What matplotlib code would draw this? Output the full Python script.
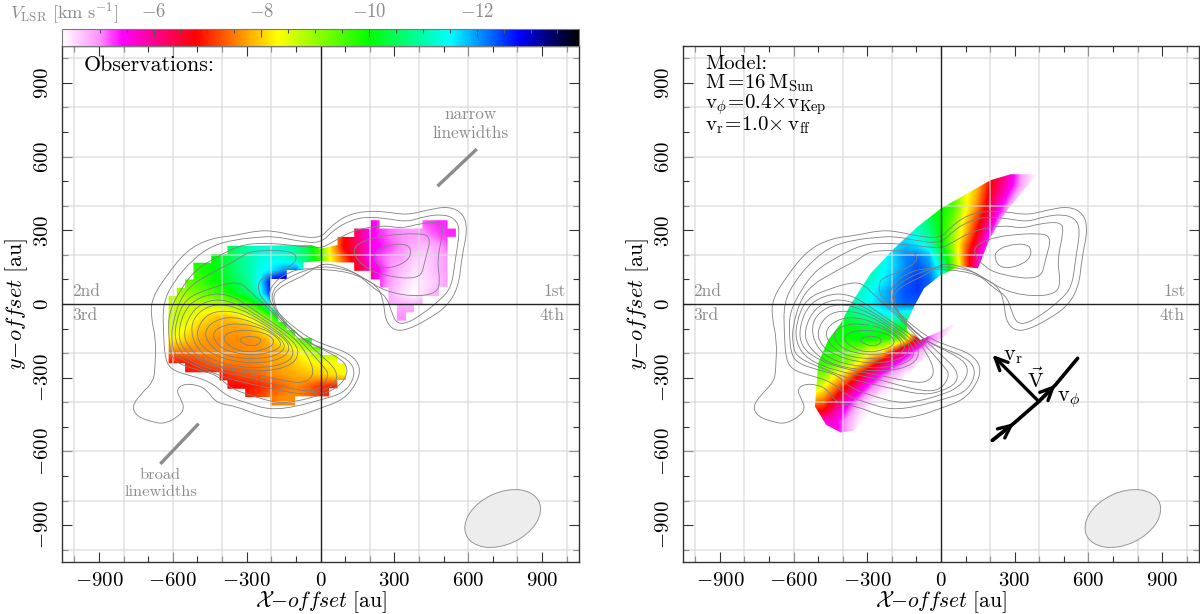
import numpy as np
import matplotlib
matplotlib.use("Agg")
import matplotlib.pyplot as plt
from matplotlib.cm import ScalarMappable
from matplotlib.colors import LinearSegmentedColormap, Normalize
from matplotlib.patches import Ellipse, PathPatch, Polygon
from matplotlib.path import Path

plt.rcParams["mathtext.fontset"] = "cm"
plt.rcParams["font.family"] = ["cmr10", "DejaVu Serif"]
plt.rcParams["axes.unicode_minus"] = False

# velocity colour scale
cmap_velocity = [-13.9, -13.3, -12.8, -11.5, -10.0, -8.3, -7.7, -6.8, -6.0, -5.4, -5.0, -4.3]
cmap_colors = ["#000000", "#000080", "#0000ff", "#00ffff", "#00ff00", "#ffff00",
               "#ffa000", "#ff0000", "#ff0090", "#ff00ff", "#ff90ff", "#ffffff"]

# contours, au, same in both panels
c1_x = [-678,-733,-766,-746,-678,-631,-577,-552,-570,-586,-556,-502,-462,-424,-340,-259,-177,-96,0,93,148,164,121,39,-35,-103,-164,-204,-211,-191,-150,-83,0,80,148,229,256,263,297,351,432,513,561,574,597,581,520,432,351,269,188,107,39,0,-96,-191,-259,-340,-448,-543,-624,-685,-689,-668,-672]
c1_y = [-315,-370,-417,-458,-482,-487,-458,-424,-383,-349,-325,-329,-349,-403,-417,-451,-467,-458,-424,-390,-322,-255,-203,-173,-146,-99,-45,3,43,84,118,145,141,135,118,77,16,-65,-108,-106,-65,-11,70,192,301,368,398,382,362,375,379,362,314,267,276,298,298,280,267,219,118,23,-51,-146,-255]
c2_x = [-640,-638,-631,-604,-543,-448,-380,-299,-204,-96,0,93,134,137,93,26,-42,-110,-171,-194,-198,-177,-137,-69,0,80,148,215,269,290,310,351,418,486,533,547,567,547,493,418,351,269,188,121,53,0,-96,-191,-259,-340,-435,-516,-597]
c2_y = [3,-119,-227,-268,-288,-315,-376,-403,-431,-417,-390,-363,-309,-255,-214,-187,-160,-112,-51,3,43,77,104,135,154,145,125,64,30,-38,-79,-79,-38,16,70,179,301,348,366,355,334,348,355,341,301,246,257,276,271,263,240,185,91]
c3_x = [-617,-611,-584,-502,-421,-367,-272,-177,-96,0,66,107,107,66,0,-56,-123,-171,-187,-191,-171,-123,-56,0,66,134,188,269,378,473,486,473,500,486,405,330,256,134,39,0,-123,-232,-326,-421,-509,-570,-617]
c3_y = [-119,-200,-241,-268,-288,-343,-376,-403,-397,-370,-343,-295,-248,-214,-180,-153,-99,-38,3,37,64,91,122,165,158,131,97,50,30,43,97,179,301,334,328,307,321,301,246,226,240,249,240,192,138,57,-38]
c4_x = [452,378,310,229,148,131,175,242,405,425]
c4_y = [280,287,283,274,246,206,152,118,97,179]
c5_x = [222,269,351,371,351,283,236,219]
c5_y = [213,240,246,213,172,145,152,185]
s1_x = [-604,-604,-590,-502,-380,-299,-177,-69,0,66,66,0,-96,-177,-218,-252,-252,-204,-137,-93,-110,-204,-292,-340,-408,-455,-516,-570]
s1_y = [-92,-160,-214,-255,-302,-322,-349,-370,-356,-322,-268,-207,-119,-45,3,43,97,118,145,179,213,219,213,179,145,118,84,23]
s2_x = [-590,-550,-448,-367,-320,-272,-211,-110,-35,12,37,0,-69,-177,-299,-421,-543,-590]
s2_y = [-79,23,64,87,84,37,-18,-119,-200,-255,-288,-349,-356,-329,-295,-275,-227,-160]
s3_x = [-577,-570,-502,-380,-259,-137,-62,-22,-56,-110,-191,-299,-367,-448,-536]
s3_y = [-92,-173,-227,-268,-288,-315,-322,-282,-200,-133,-79,-4,37,43,3]
s4_x = [-557,-543,-462,-340,-218,-110,-83,-137,-259,-340,-435,-516]
s4_y = [-106,-173,-241,-268,-275,-248,-187,-126,-45,3,23,-18]
s5_x = [-529,-509,-448,-340,-232,-137,-103,-137,-232,-326,-421,-496]
s5_y = [-92,-173,-227,-255,-261,-241,-200,-139,-72,-18,3,-31]
s6_x = [-505,-489,-435,-340,-232,-137,-123,-204,-299,-394,-468]
s6_y = [-112,-167,-207,-237,-241,-214,-160,-99,-45,-24,-45]
s7_x = [-475,-448,-380,-272,-177,-137,-177,-259,-353,-428]
s7_y = [-112,-173,-214,-225,-211,-173,-126,-79,-51,-65]
s8_x = [-444,-414,-353,-272,-204,-157,-171,-232,-326,-394]
s8_y = [-119,-173,-200,-207,-198,-173,-139,-99,-79,-85]
s9_x = [-401,-360,-299,-232,-191,-191,-232,-299,-367]
s9_y = [-139,-180,-198,-187,-167,-139,-116,-106,-112]
s10_x = [-333,-313,-279,-242,-245,-306]
s10_y = [-146,-162,-173,-160,-135,-130]
contour_x = [c1_x, c2_x, c3_x, c4_x, c5_x, s1_x, s2_x, s3_x, s4_x, s5_x, s6_x, s7_x, s8_x, s9_x, s10_x]
contour_y = [c1_y, c2_y, c3_y, c4_y, c5_y, s1_y, s2_y, s3_y, s4_y, s5_y, s6_y, s7_y, s8_y, s9_y, s10_y]

# observed velocity map, rows from y=350 down to y=-450 every 50 au, columns x=-650..550 every 50 au
obs_x = [-650, 550]
obs_y = [-450, 350]
obs_v = [
 [-10,-10,-10,-10,-10,-10,-10,-10,-10,-10,-10,-10,-10,-10,-8,-7,-6.5,-5.6,-5.3,-5.1,-5,-4.9,-5.2,-5.3,-5.3],
 [-10,-10,-10,-10,-10,-10,-10,-10,-10,-10,-10,-10,-10,-10,-8,-6.9,-6.3,-5.6,-5.3,-5.1,-5,-4.9,-5,-5.2,-5.3],
 [-10,-10,-10,-10,-10,-10.3,-10.7,-11,-11.3,-11.3,-11.2,-10.9,-10.4,-9.5,-8,-6.8,-6.3,-5.7,-5.4,-5.2,-5,-4.8,-4.7,-4.9,-5.2],
 [-9.9,-9.9,-9.9,-9.9,-10,-10.3,-10.7,-11,-11.3,-11.4,-11.3,-11,-10.5,-9.5,-8.2,-7.3,-6.5,-5.6,-5.2,-5,-4.9,-4.6,-4.6,-4.8,-5],
 [-9.7,-9.7,-9.7,-9.8,-10,-10.3,-10.7,-11,-11.4,-11.6,-12,-12.2,-10.8,-9.8,-8.4,-7.5,-6.8,-6,-5.4,-5,-4.7,-4.5,-4.6,-4.8,-5],
 [-9,-9,-9.4,-9.6,-9.9,-10.2,-10.5,-10.9,-11.6,-13,-13.3,-13.3,-13,-10,-8,-7,-6.8,-6.2,-5.3,-4.9,-4.6,-4.4,-4.5,-4.7,-5],
 [-8.9,-8.9,-9.1,-9.3,-9.5,-9.8,-10.2,-10.6,-11.4,-12.8,-13,-13,-13,-10,-8,-7,-6.5,-6,-5.3,-4.8,-4.5,-4.3,-4.6,-4.8,-5],
 [-8.7,-8.7,-8.7,-8.7,-8.7,-8.8,-9.1,-9.5,-10.2,-11.5,-12,-12,-12,-10,-8,-7,-6,-5.5,-5,-4.8,-4.8,-4.8,-5,-5,-5],
 [-8.7,-8.7,-8.5,-8.2,-8,-7.9,-8.1,-8.4,-8.9,-9.7,-10.8,-11,-11,-10,-8,-7,-6,-5.5,-5,-5,-5,-5,-5,-5,-5],
 [-8.6,-8.5,-8.2,-7.9,-7.8,-7.7,-7.7,-7.8,-8.2,-8.7,-9.4,-10.2,-10.5,-10.5,-10,-8,-6,-5.5,-5,-5,-5,-5,-5,-5,-5],
 [-8.2,-8.2,-7.9,-7.7,-7.6,-7.6,-7.6,-7.6,-7.7,-8,-8.5,-9,-9.8,-10,-9.8,-9,-8,-8,-8,-8,-8,-8,-8,-8,-8],
 [-7.5,-7.5,-7.5,-7.6,-7.6,-7.6,-7.6,-7.6,-7.6,-7.7,-7.9,-8.2,-8.6,-9.2,-8.9,-8.6,-8.4,-8.4,-8.4,-8.4,-8.4,-8.4,-8.4,-8.4,-8.4],
 [-6.9,-6.9,-7,-7.2,-7.4,-7.5,-7.5,-7.5,-7.6,-7.7,-7.8,-8,-8.2,-8.3,-8.3,-8.4,-8.4,-8.4,-8.4,-8.4,-8.4,-8.4,-8.4,-8.4,-8.4],
 [-6.9,-6.9,-6.9,-6.9,-6.9,-7,-7.2,-7.3,-7.4,-7.6,-7.7,-7.8,-7.9,-8,-8.1,-8.3,-8.3,-8.3,-8.3,-8.3,-8.3,-8.3,-8.3,-8.3,-8.3],
 [-6.8,-6.8,-6.8,-6.8,-6.8,-6.8,-6.8,-6.9,-7,-7.2,-7.4,-7.6,-7.4,-7.1,-7,-7,-7,-7,-7,-7,-7,-7,-7,-7,-7],
 [-7,-7,-7,-7,-7,-7,-7,-7,-7.2,-7.5,-7.6,-7.6,-7.4,-7.1,-7,-7,-7,-7,-7,-7,-7,-7,-7,-7,-7],
 [-7,-7,-7,-7,-7,-7,-7,-7,-7.2,-7.5,-7.6,-7.6,-7.4,-7.1,-7,-7,-7,-7,-7,-7,-7,-7,-7,-7,-7],
]
obs_edge_x = [-617,-584,-584,-550,-550,-516,-516,-444,-444,-378,-378,-35,0,69,69,137,137,204,204,240,240,414,414,516,516,550,550,516,516,482,482,414,414,380,380,347,347,310,310,276,276,242,242,204,204,137,137,69,0,-69,-69,-137,-137,-204,-204,-171,-171,-137,-137,-103,-103,-35,-35,0,0,69,69,103,103,69,69,35,35,-103,-103,-204,-204,-306,-306,-378,-378,-410,-410,-550,-550,-617]
obs_edge_y = [32,32,66,66,100,100,168,168,203,203,236,240,225,240,273,273,307,307,341,341,307,307,341,341,307,307,273,273,70,70,32,32,0,0,-34,-34,-68,-68,0,0,68,68,100,100,135,135,169,169,175,169,138,138,102,102,-4,-38,-72,-72,-106,-106,-139,-139,-173,-173,-207,-207,-241,-241,-309,-309,-343,-343,-376,-376,-413,-413,-379,-379,-345,-345,-311,-311,-278,-278,-241,-241]

# model velocity map, rows from y=550 down to y=-550 every 50 au, columns x=-550..450 every 50 au
mod_x = [-550, 450]
mod_y = [-550, 550]
mod_v = [
 [-8,-8,-8,-8,-8,-8,-8,-8,-8,-8,-8,-8,-8,-8,-8,-7,-6.4,-5.6,-4.9,-4.4,-4.3],
 [-8.5,-8.5,-8.5,-8.5,-8.5,-8.5,-8.5,-8.5,-8.5,-8.5,-8.5,-8.5,-8.5,-8.5,-8,-7,-6.2,-5.5,-4.8,-4.3,-4.3],
 [-9.5,-9.5,-9.5,-9.5,-9.5,-9.5,-9.5,-9.5,-9.5,-9.5,-9.5,-9.5,-9.5,-8.5,-7.8,-6.8,-5.9,-5.1,-4.4,-4.3,-4.3],
 [-10,-10,-10,-10,-10,-10,-10,-10,-10,-10,-10,-10,-9.6,-8.5,-7.6,-6.6,-5.5,-4.7,-4.3,-4.3,-4.3],
 [-11,-11,-11,-11,-11,-11,-11,-11,-11,-11,-10.6,-10,-9.3,-8.2,-7.2,-6.2,-5,-4.4,-4.3,-4.3,-4.3],
 [-11.4,-11.4,-11.4,-11.4,-11.4,-11.4,-11.4,-11.4,-11.4,-11.2,-10.8,-10,-9.1,-8,-6.9,-5.6,-4.6,-4.3,-4.3,-4.3,-4.3],
 [-11.4,-11.4,-11.4,-11.4,-11.4,-11.4,-11.4,-11.6,-11.8,-11.6,-11.2,-10.2,-9,-7.6,-6.5,-5.2,-4.4,-4.3,-4.3,-4.3,-4.3],
 [-11,-11,-11,-11,-11,-11.2,-11.4,-11.7,-12.1,-12.2,-11.9,-10.8,-9.2,-7.5,-6,-4.8,-4.3,-4.3,-4.3,-4.3,-4.3],
 [-11,-11,-11,-11,-11,-11,-11.4,-11.7,-12.1,-12.4,-12.1,-11.3,-9.5,-7.5,-6,-4.8,-4.3,-4.3,-4.3,-4.3,-4.3],
 [-11,-11,-11,-11,-11.1,-11.2,-11.5,-11.9,-12.3,-12.5,-12.3,-11.5,-9.5,-7.5,-6,-4.8,-4.3,-4.3,-4.3,-4.3,-4.3],
 [-11,-11,-11,-11,-11.2,-11.4,-11.8,-12.1,-12.4,-12.5,-12.3,-11.5,-9.5,-7.5,-6,-4.8,-4.3,-4.3,-4.3,-4.3,-4.3],
 [-11,-11,-11,-11,-11.2,-11.5,-11.8,-12.1,-12.3,-12.3,-12.3,-11.5,-9.5,-7.5,-6,-4.8,-4.3,-4.3,-4.3,-4.3,-4.3],
 [-10.2,-10.2,-10.2,-10.5,-10.8,-11,-11.3,-11.4,-11.1,-11,-9,-7,-5.5,-4.8,-4.4,-4.3,-4.3,-4.3,-4.3,-4.3,-4.3],
 [-10,-10,-10,-10.1,-10.2,-10.4,-10.4,-10.3,-10.2,-7,-5.3,-4.8,-4.4,-4.3,-4.3,-4.3,-4.3,-4.3,-4.3,-4.3,-4.3],
 [-10,-10,-9.9,-9.9,-10,-10,-9.8,-9.6,-8.6,-6.6,-5.2,-4.6,-4.3,-4.3,-4.3,-4.3,-4.3,-4.3,-4.3,-4.3,-4.3],
 [-9.9,-9.9,-9.7,-9.4,-9.1,-8.5,-8.4,-7,-5.9,-5.1,-4.4,-4.3,-4.3,-4.3,-4.3,-4.3,-4.3,-4.3,-4.3,-4.3,-4.3],
 [-9.7,-9.7,-9.5,-9.1,-8.4,-7.5,-6.5,-5.6,-5,-4.5,-4.3,-4.3,-4.3,-4.3,-4.3,-4.3,-4.3,-4.3,-4.3,-4.3,-4.3],
 [-9.2,-9.2,-8.4,-7.9,-6.9,-6,-5.3,-4.8,-4.4,-4.3,-4.3,-4.3,-4.3,-4.3,-4.3,-4.3,-4.3,-4.3,-4.3,-4.3,-4.3],
 [-9,-8.4,-7.6,-6.8,-5.9,-5.2,-4.7,-4.3,-4.3,-4.3,-4.3,-4.3,-4.3,-4.3,-4.3,-4.3,-4.3,-4.3,-4.3,-4.3,-4.3],
 [-8,-7.6,-6.8,-5.8,-5.2,-4.6,-4.3,-4.3,-4.3,-4.3,-4.3,-4.3,-4.3,-4.3,-4.3,-4.3,-4.3,-4.3,-4.3,-4.3,-4.3],
 [-6.9,-6.9,-6,-5.3,-4.6,-4.3,-4.3,-4.3,-4.3,-4.3,-4.3,-4.3,-4.3,-4.3,-4.3,-4.3,-4.3,-4.3,-4.3,-4.3,-4.3],
 [-5.6,-5.6,-5.6,-4.9,-4.4,-4.3,-4.3,-4.3,-4.3,-4.3,-4.3,-4.3,-4.3,-4.3,-4.3,-4.3,-4.3,-4.3,-4.3,-4.3,-4.3],
 [-5.6,-5.6,-5.6,-4.9,-4.4,-4.3,-4.3,-4.3,-4.3,-4.3,-4.3,-4.3,-4.3,-4.3,-4.3,-4.3,-4.3,-4.3,-4.3,-4.3,-4.3],
]
mod_edge_x = [-513,-500,-459,-408,-367,-286,-191,-96,0,107,202,283,391,269,202,150,80,-1,-69,-110,-139,-139,-83,-15,46,53,-1,-76,-164,-272,-353,-408,-468]
mod_edge_y = [-417,-241,-146,-79,0,125,226,314,389,450,504,528,528,382,273,145,154,118,64,-11,-72,-106,-146,-116,-85,-92,-146,-227,-309,-417,-515,-523,-491]

# velocity vector sketch in the model panel
path_x = [209, 297, 398, 466, 556]
path_y = [-555, -485, -397, -329, -221]
vr_x = [398, 209]
vr_y = [-397, -207]

major_ticks = [-900, -600, -300, 0, 300, 600, 900]
minor_ticks = [-1000, -800, -700, -500, -400, -200, -100, 100, 200, 400, 500, 700, 800, 1000]
grid_ticks = [-1000, -800, -600, -400, -200, 200, 400, 600, 800, 1000]
bar_ticks = [-6, -8, -10, -12]
bar_minor = [-5, -5.5, -6.5, -7, -7.5, -8.5, -9, -9.5, -10.5, -11, -11.5, -12.5, -13, -13.5]

GREY = "#8c8c8c"
stops = [(v - cmap_velocity[0]) / (cmap_velocity[-1] - cmap_velocity[0]) for v in cmap_velocity]
cmap = LinearSegmentedColormap.from_list("vlsr", list(zip(stops, cmap_colors)), N=512)
norm = Normalize(cmap_velocity[0], cmap_velocity[-1])


def smooth_loop(x, y):
    # quadratic curves through the midpoints, read points act as control points
    pts = np.column_stack([x, y]).astype(float)
    mids = (pts + np.roll(pts, -1, axis=0)) / 2
    verts = [mids[-1]]
    codes = [Path.MOVETO]
    for p, m in zip(pts, mids):
        verts += [p, m]
        codes += [Path.CURVE3, Path.CURVE3]
    return Path(verts, codes)


def tex(v):
    return "$%d$" % v


def setup_panel(ax):
    ax.set_xlim(-1050, 1050)
    ax.set_ylim(-1050, 1050)
    ax.set_xticks(major_ticks)
    ax.set_yticks(major_ticks)
    ax.set_xticks(minor_ticks, minor=True)
    ax.set_yticks(minor_ticks, minor=True)
    ax.set_xticklabels([tex(t) for t in major_ticks], fontsize=15)
    ax.set_yticklabels([tex(t) for t in major_ticks], fontsize=15, rotation=90, va="center")
    ax.tick_params(which="major", direction="in", length=7, width=0.8, top=True, right=True, color="#333333", pad=7)
    ax.tick_params(which="minor", direction="in", length=4, width=0.8, top=True, right=True, color="#333333")
    for t in grid_ticks:
        ax.axvline(t, color="#d8d8d8", lw=1.1, alpha=0.75, zorder=2)
        ax.axhline(t, color="#d8d8d8", lw=1.1, alpha=0.75, zorder=2)
    ax.axvline(0, color="#222222", lw=1.0, zorder=4)
    ax.axhline(0, color="#222222", lw=1.0, zorder=4)
    for s in ax.spines.values():
        s.set_linewidth(1.0)
        s.set_color("#333333")
    ax.set_xlabel(r"$\mathcal{X}\mathit{-offset}\ \mathrm{[au]}$", fontsize=15.5, labelpad=-0.5)
    ax.set_ylabel(r"$\mathit{y\!-\!offset}\ \mathrm{[au]}$", fontsize=16, labelpad=3)
    for lx, ly, s in [(-1010, 50, "2nd"), (-1010, -45, "3rd"), (905, 50, "1st"), (890, -45, "4th")]:
        ax.text(lx, ly, s, color=GREY, fontsize=12.5, va="center", ha="left", zorder=5)
    ax.add_patch(Ellipse((740, -873), 325, 211, angle=25, fc="#ededed", ec="#909090", lw=0.65, zorder=3))
    for cx, cy in zip(contour_x, contour_y):
        ax.add_patch(PathPatch(smooth_loop(cx, cy), fc="none", ec="#808080", lw=0.6, zorder=3))


def draw_map(ax, values, xr, yr, ex, ey):
    im = ax.imshow(np.array(values, dtype=float), extent=[xr[0], xr[1], yr[0], yr[1]], origin="upper",
                   cmap=cmap, norm=norm, interpolation="bilinear", interpolation_stage="data",
                   aspect="auto", zorder=1)
    clip = Polygon(np.column_stack([ex, ey]), closed=True, transform=ax.transData)
    im.set_clip_path(clip)


fig = plt.figure(figsize=(12, 6.14), dpi=100)
ax1 = fig.add_axes([62 / 1200, 52 / 614, 517 / 1200, 516 / 614])
ax2 = fig.add_axes([683 / 1200, 52 / 614, 516 / 1200, 516 / 614])
cax = fig.add_axes([62 / 1200, 568 / 614, 517 / 1200, 17 / 614])

draw_map(ax1, obs_v, obs_x, obs_y, obs_edge_x, obs_edge_y)
draw_map(ax2, mod_v, mod_x, mod_y, mod_edge_x, mod_edge_y)
setup_panel(ax1)
setup_panel(ax2)

ax1.text(-960, 970, "Observations:", fontsize=15.8, va="center", zorder=5)
ax1.plot([480, 630], [484, 626], color=GREY, lw=2.4, zorder=5)
ax1.plot([-646, -500], [-646, -492], color=GREY, lw=2.4, zorder=5)
ax1.text(610, 735, "narrow\nlinewidths", color=GREY, fontsize=12.3, ha="center", va="center", linespacing=1.3)
ax1.text(-650, -732, "broad\nlinewidths", color=GREY, fontsize=11.8, ha="center", va="center", linespacing=1.3)

ax2.text(-960, 975, "Model:", fontsize=15, va="center", zorder=5)
ax2.text(-960, 897, r"$\mathrm{M=\!16\,M_{Sun}}$", fontsize=15, va="center", zorder=5)
ax2.text(-960, 812, r"$\mathrm{v}_{\phi}\!\mathrm{=\!0.4{\times}v_{Kep}}$", fontsize=15, va="center", zorder=5)
ax2.text(-960, 727, r"$\mathrm{v_r\!=\!1.0{\times}\,v_{ff}}$", fontsize=15, va="center", zorder=5)

head = "->,head_length=0.9,head_width=0.42"
ax2.plot(path_x, path_y, color="black", lw=2.6, zorder=6, solid_capstyle="round")
ax2.annotate("", xy=(path_x[1], path_y[1]), xytext=(path_x[0], path_y[0]), zorder=6,
             arrowprops=dict(arrowstyle=head, color="black", lw=2.4, shrinkA=0, shrinkB=0))
ax2.annotate("", xy=(path_x[3], path_y[3]), xytext=(path_x[2], path_y[2]), zorder=6,
             arrowprops=dict(arrowstyle=head, color="black", lw=2.4, shrinkA=0, shrinkB=0))
ax2.annotate("", xy=(vr_x[1], vr_y[1]), xytext=(vr_x[0], vr_y[0]), zorder=6,
             arrowprops=dict(arrowstyle=head, color="black", lw=2.4, shrinkA=0, shrinkB=0))
ax2.text(295, -214, r"$\mathrm{v_r}$", fontsize=16, ha="center", va="center", zorder=6)
ax2.text(385, -309, r"$\vec{\mathrm{V}}$", fontsize=15, ha="center", va="center", zorder=6)
ax2.text(520, -390, r"$\mathrm{v}_{\phi}$", fontsize=16, ha="center", va="center", zorder=6)

cb = fig.colorbar(ScalarMappable(norm=norm, cmap=cmap), cax=cax, orientation="horizontal")
cax.invert_xaxis()
cax.xaxis.set_ticks_position("top")
cb.set_ticks(bar_ticks)
cb.set_ticklabels([tex(t) for t in bar_ticks], fontsize=13.5, color=GREY)
cb.ax.set_xticks(bar_minor, minor=True)
cax.tick_params(which="major", direction="in", length=6, width=0.8, color="#555555", pad=6)
cax.tick_params(which="minor", direction="in", length=3, width=0.8, color="#555555")
cb.outline.set_edgecolor("#777777")
fig.text(10 / 1200, 1 - 13 / 614, r"$V_{\mathrm{LSR}}\ \mathrm{[km\ s^{-1}]}$", color=GREY, fontsize=13.3, va="center")

fig.savefig("out.png", dpi=100)
